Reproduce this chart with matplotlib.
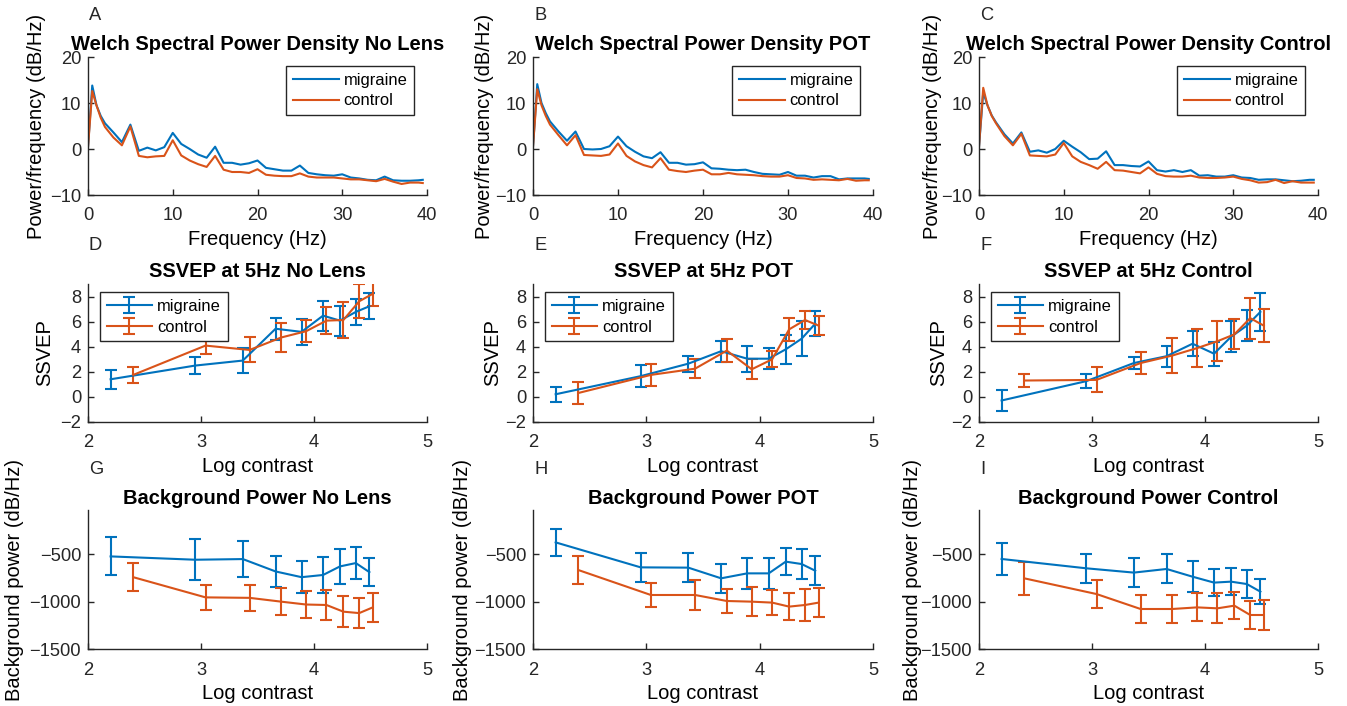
import matplotlib
matplotlib.use('Agg')
import matplotlib.pyplot as plt

plt.rcParams['font.family'] = ['Liberation Sans', 'DejaVu Sans']

# ---------------- data ----------------
conditions = ['No Lens', 'POT', 'Control']
panel_letters = ['A', 'B', 'C', 'D', 'E', 'F', 'G', 'H', 'I']
groups = ['migraine', 'control']

freqs = [0, 0.5, 1, 1.5, 2, 3, 4, 5, 6, 7, 8, 9, 10, 11, 12, 13, 14, 15, 16, 17, 18, 19, 20,
         21, 22, 23, 24, 25, 26, 27, 28, 29, 30, 31, 32, 33, 34, 35, 36, 37, 38, 39, 39.5]

psd_nolens_migraine = [0.4, 13.8, 9.5, 7.2, 5.6, 3.6, 1.5, 5.3, -0.4, 0.3, -0.3, 0.4, 3.5,
                       1.1, 0.0, -1.2, -1.9, 0.5, -3.0, -3.0, -3.4, -3.1, -2.5,
                       -4.1, -4.4, -4.7, -4.7, -3.6, -5.2, -5.5, -5.7, -5.8, -5.5,
                       -6.2, -6.4, -6.7, -6.8, -6.0, -6.8, -6.9, -6.9, -6.8, -6.7]
psd_nolens_control = [0.4, 12.6, 9.5, 6.8, 4.8, 2.5, 0.8, 4.9, -1.5, -1.8, -1.6, -1.5, 1.9,
                      -1.4, -2.5, -3.3, -3.9, -1.5, -4.5, -5.0, -5.0, -5.2, -4.4,
                      -5.6, -5.8, -5.9, -5.9, -5.3, -6.0, -6.2, -6.2, -6.2, -6.4,
                      -6.6, -6.6, -6.8, -7.0, -6.5, -7.1, -7.6, -7.3, -7.3, -7.4]
psd_pot_migraine = [0.5, 14.1, 10.0, 7.8, 6.0, 3.8, 1.8, 3.8, 0.0, -0.1, 0.0, 0.6, 2.7,
                    0.6, -0.6, -1.6, -2.0, -0.7, -3.0, -3.0, -3.4, -3.3, -2.9,
                    -4.2, -4.3, -4.5, -4.6, -4.5, -5.0, -5.4, -5.5, -5.6, -5.0,
                    -5.8, -5.8, -6.2, -5.9, -5.9, -6.6, -6.4, -6.4, -6.4, -6.5]
psd_pot_control = [0.5, 13.0, 9.5, 7.2, 5.3, 3.0, 0.8, 3.0, -1.3, -1.4, -1.5, -1.2, 1.2,
                   -1.5, -2.7, -3.5, -4.0, -2.0, -4.5, -4.8, -5.0, -4.7, -4.5,
                   -5.5, -5.5, -5.2, -5.5, -5.6, -5.7, -5.9, -6.0, -6.0, -5.7,
                   -6.3, -6.4, -6.7, -6.6, -6.7, -6.8, -6.5, -6.9, -6.8, -6.8]
psd_control_migraine = [0.5, 12.3, 9.5, 7.3, 5.8, 3.2, 1.2, 3.6, -0.6, -0.3, -0.8, 0.0, 1.8,
                        0.5, -0.7, -2.2, -2.1, -0.5, -3.5, -3.5, -3.7, -3.8, -2.7,
                        -4.6, -4.9, -4.6, -5.0, -4.6, -5.8, -5.7, -6.0, -6.0, -5.7,
                        -6.2, -6.3, -6.7, -6.6, -6.6, -6.8, -7.0, -6.9, -6.7, -6.7]
psd_control_control = [0.5, 13.3, 9.5, 7.2, 5.6, 2.8, 0.8, 3.3, -1.4, -1.5, -1.6, -1.2, 1.3,
                       -1.6, -2.8, -3.5, -4.3, -2.8, -4.6, -4.7, -5.0, -5.3, -4.0,
                       -5.4, -5.9, -6.0, -6.0, -5.8, -6.2, -6.3, -6.3, -6.2, -6.0,
                       -6.5, -6.8, -7.3, -7.2, -6.7, -7.4, -7.0, -7.3, -7.3, -7.3]

contrast_migraine = [2.2, 2.95, 3.37, 3.66, 3.89, 4.08, 4.23, 4.37, 4.49]
contrast_control = [2.4, 3.04, 3.43, 3.71, 3.93, 4.11, 4.26, 4.4, 4.52]

ssvep_nolens_migraine = [1.4, 2.5, 2.9, 5.45, 5.2, 6.5, 6.1, 6.8, 7.25]
ssvep_nolens_migraine_err = [0.75, 0.65, 1.0, 0.9, 1.05, 1.2, 1.2, 1.05, 1.05]
ssvep_nolens_control = [1.75, 4.1, 3.75, 4.75, 5.25, 6.1, 6.15, 7.65, 8.25]
ssvep_nolens_control_err = [0.65, 0.7, 1.0, 1.15, 0.9, 1.1, 1.45, 1.35, 1.0]
ssvep_pot_migraine = [0.2, 1.65, 2.65, 3.65, 3.05, 3.05, 3.8, 4.65, 5.85]
ssvep_pot_migraine_err = [0.6, 0.9, 0.65, 0.85, 1.05, 0.85, 1.15, 1.4, 1.0]
ssvep_pot_control = [0.3, 1.75, 2.25, 3.7, 2.2, 3.0, 5.4, 6.15, 5.7]
ssvep_pot_control_err = [0.9, 0.9, 0.75, 0.95, 0.8, 0.65, 0.9, 0.7, 0.75]
ssvep_control_migraine = [-0.3, 1.25, 2.7, 3.25, 4.25, 3.45, 4.8, 5.7, 6.8]
ssvep_control_migraine_err = [0.85, 0.55, 0.5, 0.85, 1.0, 0.95, 1.25, 1.25, 1.5]
ssvep_control_control = [1.3, 1.35, 2.7, 3.3, 3.9, 4.45, 5.0, 6.3, 5.7]
ssvep_control_control_err = [0.55, 1.0, 0.9, 1.4, 1.5, 1.6, 1.2, 1.65, 1.35]

bg_nolens_migraine = [-525, -560, -553, -683, -743, -720, -630, -595, -690]
bg_nolens_migraine_err = [200, 215, 190, 160, 170, 185, 180, 170, 150]
bg_nolens_control = [-743, -955, -960, -1000, -1030, -1035, -1105, -1120, -1060]
bg_nolens_control_err = [150, 130, 135, 145, 145, 155, 160, 160, 155]
bg_pot_migraine = [-378, -640, -643, -755, -703, -703, -580, -605, -675]
bg_pot_migraine_err = [145, 150, 150, 155, 160, 165, 140, 160, 150]
bg_pot_control = [-668, -930, -930, -993, -1000, -1010, -1052, -1035, -1010]
bg_pot_control_err = [150, 130, 155, 130, 155, 130, 140, 165, 150]
bg_control_migraine = [-552, -650, -695, -657, -738, -800, -790, -815, -895]
bg_control_migraine_err = [163, 152, 155, 152, 163, 143, 143, 145, 128]
bg_control_control = [-755, -920, -1077, -1077, -1060, -1070, -1042, -1140, -1140]
bg_control_control_err = [175, 145, 148, 143, 148, 157, 143, 152, 155]

psd_data = [(psd_nolens_migraine, psd_nolens_control),
            (psd_pot_migraine, psd_pot_control),
            (psd_control_migraine, psd_control_control)]
ssvep_data = [(ssvep_nolens_migraine, ssvep_nolens_migraine_err, ssvep_nolens_control, ssvep_nolens_control_err),
              (ssvep_pot_migraine, ssvep_pot_migraine_err, ssvep_pot_control, ssvep_pot_control_err),
              (ssvep_control_migraine, ssvep_control_migraine_err, ssvep_control_control, ssvep_control_control_err)]
bg_data = [(bg_nolens_migraine, bg_nolens_migraine_err, bg_nolens_control, bg_nolens_control_err),
           (bg_pot_migraine, bg_pot_migraine_err, bg_pot_control, bg_pot_control_err),
           (bg_control_migraine, bg_control_migraine_err, bg_control_control, bg_control_control_err)]

# ---------------- style ----------------
W, H = 1347, 706
fig = plt.figure(figsize=(W / 100, H / 100), dpi=100)
BLUE = '#0072BD'
ORANGE = '#D95319'
AXC = '#262626'
TICK_FS = 13.2
LAB_FS = 14.5
LEG_FS = 11.9

cols_left = [88, 533, 979]
cols_right = [427, 873, 1318]
rows = [(57, 195), (284.2, 421.7), (510, 649.3)]
ylab_x = [[37, 485, 932], [45, 493, 939], [15, 463, 912]]
letter_y = [15, 245, 470]
title_pad = [5.0, 5.0, 4.5]


def add_ax(r, c):
    l = cols_left[c]
    rr = cols_right[c]
    t, b = rows[r]
    ax = fig.add_axes([l / W, 1 - b / H, (rr - l) / W, (b - t) / H])
    for s in ['top', 'right']:
        ax.spines[s].set_visible(False)
    for s in ['left', 'bottom']:
        ax.spines[s].set_color(AXC)
        ax.spines[s].set_linewidth(1.0)
    ax.tick_params(direction='in', length=4, width=1.0, color=AXC, labelcolor=AXC,
                   labelsize=TICK_FS)
    ax.tick_params(axis='x', pad=9)
    ax.tick_params(axis='y', pad=5)
    ax.patch.set_alpha(0)
    return ax


def set_ylabel(ax, r, c, text):
    ax.set_ylabel(text, fontsize=LAB_FS, color='black', va='center')
    l = cols_left[c]
    rr = cols_right[c]
    ax.yaxis.set_label_coords((ylab_x[r][c] - l) / (rr - l), 0.5)


def style_legend(leg):
    fr = leg.get_frame()
    fr.set_edgecolor(AXC)
    fr.set_linewidth(1.0)
    fr.set_boxstyle('square', pad=0)


for c in range(3):
    # ---- PSD row ----
    ax = add_ax(0, c)
    mig, con = psd_data[c]
    ax.plot(freqs, mig, color=BLUE, lw=1.5, label=groups[0])
    ax.plot(freqs, con, color=ORANGE, lw=1.5, label=groups[1])
    ax.set_xlim(0, 40)
    ax.set_ylim(-10, 20)
    ax.set_xticks([0, 10, 20, 30, 40])
    ax.set_yticks([-10, 0, 10, 20])
    ax.set_title('Welch Spectral Power Density ' + conditions[c], fontsize=LAB_FS,
                 fontweight='bold', pad=title_pad[0])
    ax.set_xlabel('Frequency (Hz)', fontsize=LAB_FS, labelpad=4)
    set_ylabel(ax, 0, c, 'Power/frequency (dB/Hz)')
    axw = cols_right[c] - cols_left[c]
    axh = rows[0][1] - rows[0][0]
    leg = ax.legend(loc='upper right', bbox_to_anchor=(1 - 13 / axw, 1 - 9 / axh),
                    borderaxespad=0, fontsize=LEG_FS, handlelength=2.75,
                    handletextpad=0.3, borderpad=0.4, labelspacing=0.35,
                    fancybox=False, framealpha=1)
    style_legend(leg)

    # ---- SSVEP row ----
    ax = add_ax(1, c)
    m, me, k, ke = ssvep_data[c]
    ax.errorbar(contrast_migraine, m, yerr=me, color=BLUE, lw=1.5, elinewidth=1.5,
                capsize=4, capthick=1.5, label=groups[0])
    ax.errorbar(contrast_control, k, yerr=ke, color=ORANGE, lw=1.5, elinewidth=1.5,
                capsize=4, capthick=1.5, label=groups[1])
    ax.set_xlim(2, 5)
    ax.set_ylim(-2, 9.02)
    ax.set_xticks([2, 3, 4, 5])
    ax.set_yticks([-2, 0, 2, 4, 6, 8])
    ax.set_title('SSVEP at 5Hz ' + conditions[c], fontsize=LAB_FS,
                 fontweight='bold', pad=title_pad[1])
    ax.set_xlabel('Log contrast', fontsize=LAB_FS, labelpad=4)
    set_ylabel(ax, 1, c, 'SSVEP')
    axh = rows[1][1] - rows[1][0]
    leg = ax.legend(loc='upper left', bbox_to_anchor=(12 / axw, 1 - 8 / axh),
                    borderaxespad=0, fontsize=LEG_FS, handlelength=2.75,
                    handletextpad=0.3, borderpad=0.4, labelspacing=0.35,
                    fancybox=False, framealpha=1)
    style_legend(leg)

    # ---- Background power row ----
    ax = add_ax(2, c)
    m, me, k, ke = bg_data[c]
    ax.errorbar(contrast_migraine, m, yerr=me, color=BLUE, lw=1.5, elinewidth=1.5,
                capsize=4, capthick=1.5)
    ax.errorbar(contrast_control, k, yerr=ke, color=ORANGE, lw=1.5, elinewidth=1.5,
                capsize=4, capthick=1.5)
    ax.set_xlim(2, 5)
    ax.set_ylim(-1500, -38)
    ax.set_xticks([2, 3, 4, 5])
    ax.set_yticks([-1500, -1000, -500])
    ax.set_title('Background Power ' + conditions[c], fontsize=LAB_FS,
                 fontweight='bold', pad=title_pad[2])
    ax.set_xlabel('Log contrast', fontsize=LAB_FS, labelpad=4)
    set_ylabel(ax, 2, c, 'Background power (dB/Hz)')

# panel letters
for r in range(3):
    for c in range(3):
        fig.text((cols_left[c] + 1) / W, 1 - letter_y[r] / H, panel_letters[r * 3 + c],
                 fontsize=TICK_FS, color=AXC, ha='left', va='center')

fig.savefig('out.png', dpi=100)
